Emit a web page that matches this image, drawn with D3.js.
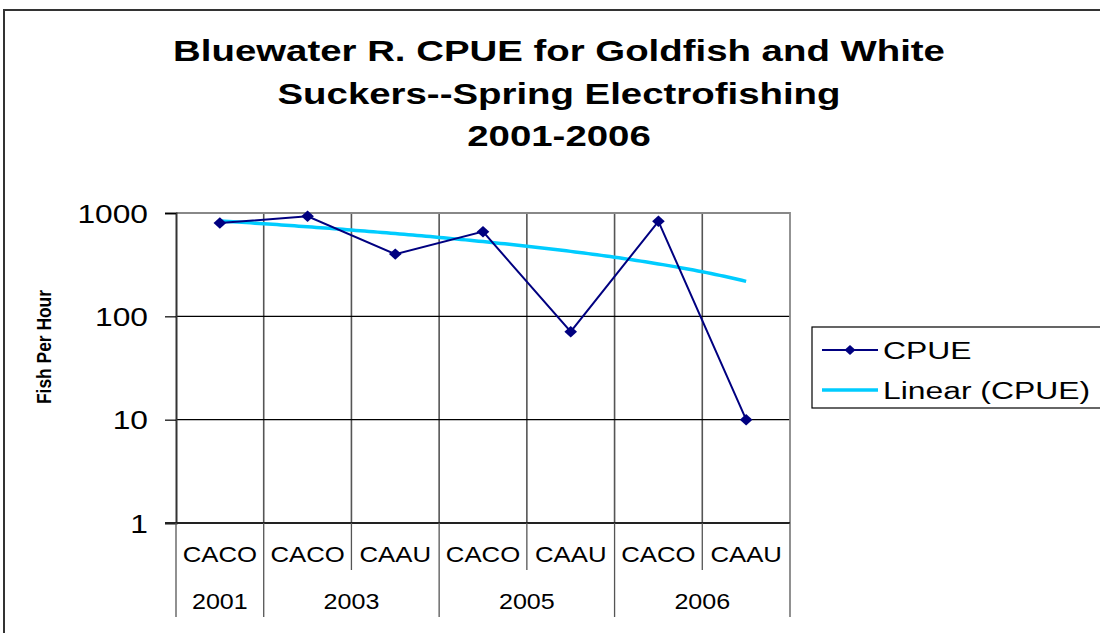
<!DOCTYPE html>
<html>
<head>
<meta charset="utf-8">
<script src="https://cdn.jsdelivr.net/npm/d3@7"></script>
<style>
  html, body { margin: 0; padding: 0; background: #fff; }
  svg { display: block; font-family: Arial, "Liberation Sans", sans-serif; }
</style>
</head>
<body>
<svg class="chart" width="1100" height="633"></svg>
<script>
// chart values
const species = ["CACO", "CACO", "CAAU", "CACO", "CAAU", "CACO", "CAAU"];
const years = ["2001", "2003", "2003", "2005", "2005", "2006", "2006"];
const cpue = [800, 930, 400, 660, 71, 830, 10];
const yTicks = [1, 10, 100, 1000];
const titleLines = [
  "Bluewater R. CPUE for Goldfish and White",
  "Suckers--Spring Electrofishing",
  "2001-2006",
];

const plot = { left: 176, right: 790, top: 213, bottom: 523 };

// the original picture is stretched sideways, so text gets a horizontal scale
const stretch = (px, py, sx) => `translate(${px},${py}) scale(${sx},1)`;

const svg = d3.select(".chart");

// outer chart frame (runs off the right and bottom edges)
svg
  .append("path")
  .attr("d", `M4,640 L4,10 L1110,10`)
  .attr("fill", "none")
  .attr("stroke", "#333")
  .attr("stroke-width", 2);

// title
svg
  .append("g")
  .selectAll("text")
  .data(titleLines)
  .join("text")
  .attr("transform", (d, i) => stretch(559, 61 + i * 42.5, 1.28))
  .attr("text-anchor", "middle")
  .attr("font-size", 30)
  .attr("font-weight", "bold")
  .text((d) => d);

const idx = cpue.map((d, i) => i);

const x = d3
  .scaleBand()
  .domain(idx)
  .range([plot.left, plot.right]);

const y = d3
  .scaleLog()
  .domain([1, 1000])
  .range([plot.bottom, plot.top]);

// vertical gridlines at category boundaries
svg
  .append("g")
  .selectAll("line")
  .data(idx.slice(1))
  .join("line")
  .attr("x1", (d) => x(d))
  .attr("x2", (d) => x(d))
  .attr("y1", plot.top)
  .attr("y2", plot.bottom)
  .attr("stroke", "#555")
  .attr("stroke-width", 1.6);

// horizontal gridlines
svg
  .append("g")
  .selectAll("line")
  .data(yTicks.slice(1))
  .join("line")
  .attr("x1", plot.left)
  .attr("x2", plot.right)
  .attr("y1", (d) => y(d))
  .attr("y2", (d) => y(d))
  .attr("stroke", "#000")
  .attr("stroke-width", 1.2);

// plot border top/right
svg
  .append("path")
  .attr("d", `M${plot.left},${plot.top} L${plot.right},${plot.top} L${plot.right},${plot.bottom}`)
  .attr("fill", "none")
  .attr("stroke", "#888")
  .attr("stroke-width", 1.8);

// y axis
const yAxis = svg
  .append("g")
  .attr("transform", `translate(${plot.left},0)`)
  .call(d3.axisLeft(y).tickValues(yTicks).tickFormat(d3.format("d")).tickSize(11));
yAxis.select(".domain").attr("stroke", "#333").attr("stroke-width", 2);
yAxis.selectAll(".tick line").attr("stroke", "#000").attr("stroke-width", 1.2);
yAxis.selectAll(".tick text").remove();
yAxis
  .selectAll(".tick")
  .append("text")
  .attr("transform", stretch(-28, 9, 1.27))
  .attr("text-anchor", "end")
  .attr("font-size", 25)
  .attr("fill", "#000")
  .text((d) => d3.format("d")(d));

// x axis line
svg
  .append("line")
  .attr("x1", plot.left - 11)
  .attr("x2", plot.right)
  .attr("y1", plot.bottom)
  .attr("y2", plot.bottom)
  .attr("stroke", "#222")
  .attr("stroke-width", 2);

// category labels (two levels)
const groups = [];
years.forEach((yr, i) => {
  const last = groups[groups.length - 1];
  if (last && last.year === yr) last.end = i;
  else groups.push({ year: yr, start: i, end: i });
});

const xLab = svg.append("g");
// dividers inside a year group
xLab
  .selectAll(".inner")
  .data(idx.filter((i) => i > 0 && years[i] === years[i - 1]))
  .join("line")
  .attr("x1", (d) => x(d))
  .attr("x2", (d) => x(d))
  .attr("y1", plot.bottom)
  .attr("y2", 570)
  .attr("stroke", "#555")
  .attr("stroke-width", 1.3);
// dividers between year groups
xLab
  .selectAll(".outer")
  .data(groups.map((g) => g.start).concat([idx.length]))
  .join("line")
  .attr("x1", (d) => (d < idx.length ? x(d) : plot.right))
  .attr("x2", (d) => (d < idx.length ? x(d) : plot.right))
  .attr("y1", plot.bottom)
  .attr("y2", 617)
  .attr("stroke", "#555")
  .attr("stroke-width", 1.3);

xLab
  .selectAll(".sp")
  .data(idx)
  .join("text")
  .attr("transform", (d) => stretch(x(d) + x.bandwidth() / 2, 561.5, 1.17))
  .attr("text-anchor", "middle")
  .attr("font-size", 22)
  .text((d) => species[d]);

xLab
  .selectAll(".yr")
  .data(groups)
  .join("text")
  .attr("transform", (g) =>
    stretch((x(g.start) + x(g.end) + x.bandwidth()) / 2, 609, 1.14)
  )
  .attr("text-anchor", "middle")
  .attr("font-size", 22)
  .text((g) => g.year);

// y axis title
svg
  .append("text")
  .attr("transform", "translate(51,347) scale(1.2,1) rotate(-90)")
  .attr("text-anchor", "middle")
  .attr("font-size", 17.4)
  .attr("font-weight", "bold")
  .text("Fish Per Hour");

// linear trendline (least squares on the raw values, like the spreadsheet)
const xs = idx.map((i) => i + 1);
const mx = d3.mean(xs);
const my = d3.mean(cpue);
const slope =
  d3.sum(xs, (v, i) => (v - mx) * (cpue[i] - my)) /
  d3.sum(xs, (v) => (v - mx) * (v - mx));
const intercept = my - slope * mx;
const trendX = d3.range(1, 7.001, 0.05);
const xPos = (v) => x(0) + x.bandwidth() / 2 + (v - 1) * x.step();

svg
  .append("path")
  .datum(trendX)
  .attr("fill", "none")
  .attr("stroke", "#00CCFF")
  .attr("stroke-width", 3.5)
  .attr(
    "d",
    d3
      .line()
      .x((v) => xPos(v))
      .y((v) => y(intercept + slope * v))
  );

// CPUE series
const cx = (i) => x(i) + x.bandwidth() / 2;
svg
  .append("path")
  .datum(idx)
  .attr("fill", "none")
  .attr("stroke", "#000080")
  .attr("stroke-width", 2)
  .attr(
    "d",
    d3
      .line()
      .x((i) => cx(i))
      .y((i) => y(cpue[i]))
  );

svg
  .append("g")
  .selectAll("path")
  .data(idx)
  .join("path")
  .attr("transform", (i) => `translate(${cx(i)},${y(cpue[i])}) scale(1.1,1) rotate(45)`)
  .attr("d", d3.symbol().type(d3.symbolSquare).size(66))
  .attr("fill", "#000080");

// legend
const legend = svg.append("g");
legend
  .append("rect")
  .attr("x", 812)
  .attr("y", 327)
  .attr("width", 320)
  .attr("height", 81)
  .attr("fill", "#fff")
  .attr("stroke", "#000")
  .attr("stroke-width", 1.2);

const legendItems = [
  { label: "CPUE", color: "#000080", width: 2, marker: true },
  { label: "Linear (CPUE)", color: "#00CCFF", width: 3.5, marker: false },
];
legendItems.forEach((d, i) => {
  const ly = 350 + i * 40;
  legend
    .append("line")
    .attr("x1", 822)
    .attr("x2", 878)
    .attr("y1", ly)
    .attr("y2", ly)
    .attr("stroke", d.color)
    .attr("stroke-width", d.width);
  if (d.marker) {
    legend
      .append("path")
      .attr("transform", `translate(850,${ly}) scale(1.1,1) rotate(45)`)
      .attr("d", d3.symbol().type(d3.symbolSquare).size(50))
      .attr("fill", d.color);
  }
  legend
    .append("text")
    .attr("transform", stretch(883, ly + 9, 1.3))
    .attr("font-size", 24.5)
    .text(d.label);
});
</script>
</body>
</html>
